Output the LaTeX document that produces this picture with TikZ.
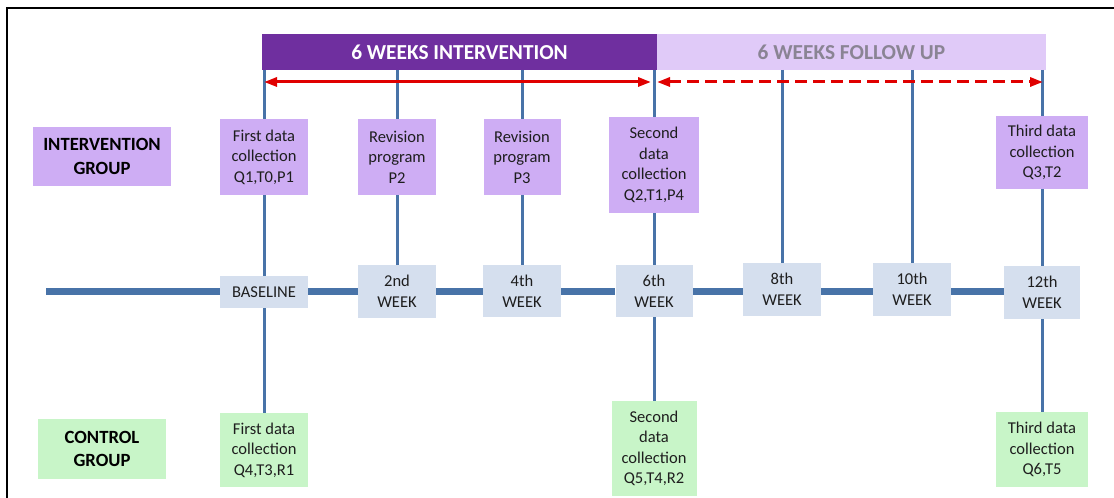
\documentclass[tikz,border=0pt]{standalone}
\usepackage{fontspec}
\setmainfont{Carlito}
\usetikzlibrary{arrows.meta}
\newdimen\pxu \pxu=0.75pt
\definecolor{barDark}{HTML}{6F2F9F}
\definecolor{barLight}{HTML}{E0CAF8}
\definecolor{boxPurple}{HTML}{CEADF4}
\definecolor{boxWeek}{HTML}{D5DFEE}
\definecolor{boxGreen}{HTML}{C8F5C8}
\definecolor{lineBlue}{HTML}{4873A8}
\definecolor{arrowRed}{HTML}{E00000}
\definecolor{fadeText}{HTML}{8A8494}
\definecolor{txt}{HTML}{1E1E1E}
\tikzset{
  box/.style={rectangle, inner sep=0pt, align=center, text=txt,
    font=\fontsize{12.4}{15.4}\selectfont},
  pbox/.style={box, fill=boxPurple},
  wbox/.style={box, fill=boxWeek},
  gbox/.style={box, fill=boxGreen},
  grp/.style={box, font=\fontsize{14}{17.5}\selectfont\bfseries, text=black},
  hdr/.style={rectangle, minimum height=36\pxu, inner sep=0pt,
    font=\fontsize{16}{19}\selectfont\bfseries},
  vline/.style={draw=lineBlue, line width=3\pxu},
  tline/.style={draw=lineBlue, line width=7\pxu},
  span/.style={draw=arrowRed, line width=3\pxu,
    {Triangle[length=9.75pt,width=6.75pt]}-{Triangle[length=9.75pt,width=6.75pt]}},
}
\begin{document}
\begin{tikzpicture}[x=0.75pt, y=-0.75pt]
\useasboundingbox (0,0) rectangle (1114,498);
% frame
\draw[line width=2\pxu] (7,498) -- (7,8) -- (1114,8);

% header bars
\node[hdr, fill=barDark, text=white, minimum width=395\pxu] (hint) at (459.5,52) {6 WEEKS INTERVENTION};
\node[hdr, fill=barLight, text=fadeText, minimum width=389\pxu] (hfol) at (851.5,52) {6 WEEKS FOLLOW UP};

% vertical line tops (bottom edge of the header)
\coordinate (v0) at (264,70);
\coordinate (v1) at (397,70);
\coordinate (v2) at (522,70);
\coordinate (v3) at (654,70);
\coordinate (v4) at (782,70);
\coordinate (v5) at (912,70);
\coordinate (v6) at (1042,70);

% group labels
\node[grp, fill=boxPurple, minimum width=138\pxu, minimum height=59\pxu] (ig) at (102,156.5) {INTERVENTION\\GROUP};
\node[grp, fill=boxGreen, minimum width=128\pxu, minimum height=60\pxu] (cg) at (102,449) {CONTROL\\GROUP};

% intervention group boxes
\node[pbox, minimum width=88\pxu, minimum height=76\pxu] (b1) at (264,157) {First data\\collection\\Q1,T0,P1};
\node[pbox, minimum width=78\pxu, minimum height=76\pxu] (b2) at (397,157) {Revision\\program\\P2};
\node[pbox, minimum width=77\pxu, minimum height=76\pxu] (b3) at (522,157) {Revision\\program\\P3};
\node[pbox, minimum width=90\pxu, minimum height=96\pxu] (b4) at (654,165) {Second\\data\\collection\\Q2,T1,P4};
\node[pbox, minimum width=92\pxu, minimum height=73\pxu] (b5) at (1042,152.5) {Third data\\collection\\Q3,T2};

% week boxes
\node[wbox, minimum width=88\pxu, minimum height=32\pxu] (w0) at (264,292) {BASELINE};
\node[wbox, minimum width=78\pxu, minimum height=53\pxu] (w2) at (397,291.5) {2nd\\WEEK};
\node[wbox, minimum width=78\pxu, minimum height=52\pxu] (w4) at (522,291) {4th\\WEEK};
\node[wbox, minimum width=77\pxu, minimum height=52\pxu] (w6) at (654,291) {6th\\WEEK};
\node[wbox, minimum width=78\pxu, minimum height=53\pxu] (w8) at (782,289.5) {8th\\WEEK};
\node[wbox, minimum width=78\pxu, minimum height=53\pxu] (w10) at (912,289.5) {10th\\WEEK};
\node[wbox, minimum width=76\pxu, minimum height=53\pxu] (w12) at (1042,292.5) {12th\\WEEK};

% control group boxes
\node[gbox, minimum width=88\pxu, minimum height=74\pxu] (c1) at (264,450) {First data\\collection\\Q4,T3,R1};
\node[gbox, minimum width=85\pxu, minimum height=95\pxu] (c2) at (654,448.5) {Second\\data\\collection\\Q5,T4,R2};
\node[gbox, minimum width=92\pxu, minimum height=75\pxu] (c3) at (1042,449.5) {Third data\\collection\\Q6,T5};

% timeline, kept level at the baseline height
\coordinate (tstart) at (46,292);
\draw[tline] (tstart) -- (w0.west);
\draw[tline] (w0.east) -- (w2.west |- tstart);
\draw[tline] (w2.east |- tstart) -- (w4.west |- tstart);
\draw[tline] (w4.east |- tstart) -- (w6.west |- tstart);
\draw[tline] (w6.east |- tstart) -- (w8.west |- tstart);
\draw[tline] (w8.east |- tstart) -- (w10.west |- tstart);
\draw[tline] (w10.east |- tstart) -- (w12.west |- tstart);

% vertical connectors
\draw[vline] (v0) -- (b1.north);
\draw[vline] (b1.south) -- (w0.north);
\draw[vline] (w0.south) -- (c1.north);
\draw[vline] (v1) -- (b2.north);
\draw[vline] (b2.south) -- (w2.north);
\draw[vline] (v2) -- (b3.north);
\draw[vline] (b3.south) -- (w4.north);
\draw[vline] (v3) -- (b4.north);
\draw[vline] (b4.south) -- (w6.north);
\draw[vline] (w6.south) -- (c2.north);
\draw[vline] (v4) -- (w8.north);
\draw[vline] (v5) -- (w10.north);
\draw[vline] (v6) -- (b5.north);
\draw[vline] (b5.south) -- (w12.north);
\draw[vline] (w12.south) -- (c3.north);

% period arrows
\coordinate (a0) at (264,82);
\coordinate (a1) at (651,82);
\coordinate (a2) at (657,82);
\coordinate (a3) at (1043,82);
\draw[span] (a0) -- (a1);
\draw[span, dash pattern=on 12\pxu off 6\pxu] (a2) -- (a3);
\end{tikzpicture}
\end{document}
